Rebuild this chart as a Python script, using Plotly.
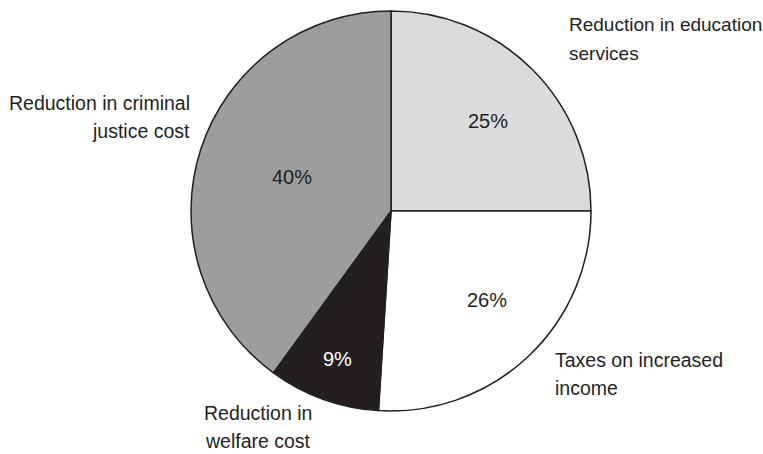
import plotly.graph_objects as go

categories = ["Reduction in education services", "Taxes on increased income",
              "Reduction in welfare cost", "Reduction in criminal justice cost"]
values = [25, 26, 9, 40]
pct_labels = ["25%", "26%", "9%", "40%"]
outer_labels = [["Reduction in education", "services"], ["Taxes on increased", "income"],
                ["Reduction in", "welfare cost"], ["Reduction in criminal", "justice cost"]]
colors = ["#dbdbdb", "#ffffff", "#231f20", "#9d9d9d"]
pct_colors = ["#231f20", "#231f20", "#ffffff", "#231f20"]

W, H = 763, 454
cx, cy, r = 391, 211, 200

fig = go.Figure()
fig.add_trace(go.Pie(
    labels=categories, values=values, sort=False, direction="clockwise", rotation=0,
    marker=dict(colors=colors, line=dict(color="#231f20", width=1.5)),
    textinfo="none", hoverinfo="label+percent", showlegend=False,
    domain=dict(x=[(cx - r) / W, (cx + r) / W], y=[(H - cy - r) / H, (H - cy + r) / H]),
))

FONT = "Liberation Sans, Arial, Helvetica, sans-serif"
TXT = "#231f20"

# percentage labels (pixel positions)
pct_pos = [(488, 121), (487, 300), (337, 359), (292, 177)]
for (x, y), t, c in zip(pct_pos, pct_labels, pct_colors):
    fig.add_annotation(x=x / W, y=1 - y / H, xref="paper", yref="paper", text=t,
                       showarrow=False, xanchor="center", yanchor="middle",
                       font=dict(family=FONT, size=20, color=c))

# outer labels: (x, first-line y, xanchor, size)
outer_pos = [(567, 25, "left", 19), (553, 360, "left", 19.5),
             (258, 413, "center", 19.5), (192, 103, "right", 19.5)]
LINE = 28
for (x, y, xa, sz), lines in zip(outer_pos, outer_labels):
    for i, t in enumerate(lines):
        fig.add_annotation(x=x / W, y=1 - (y + i * LINE) / H, xref="paper", yref="paper",
                           text=t, showarrow=False, xanchor=xa, yanchor="middle",
                           font=dict(family=FONT, size=sz, color=TXT))

fig.update_layout(width=W, height=H, margin=dict(l=0, r=0, t=0, b=0),
                  paper_bgcolor="white", plot_bgcolor="white")
fig.write_html("out.html")
